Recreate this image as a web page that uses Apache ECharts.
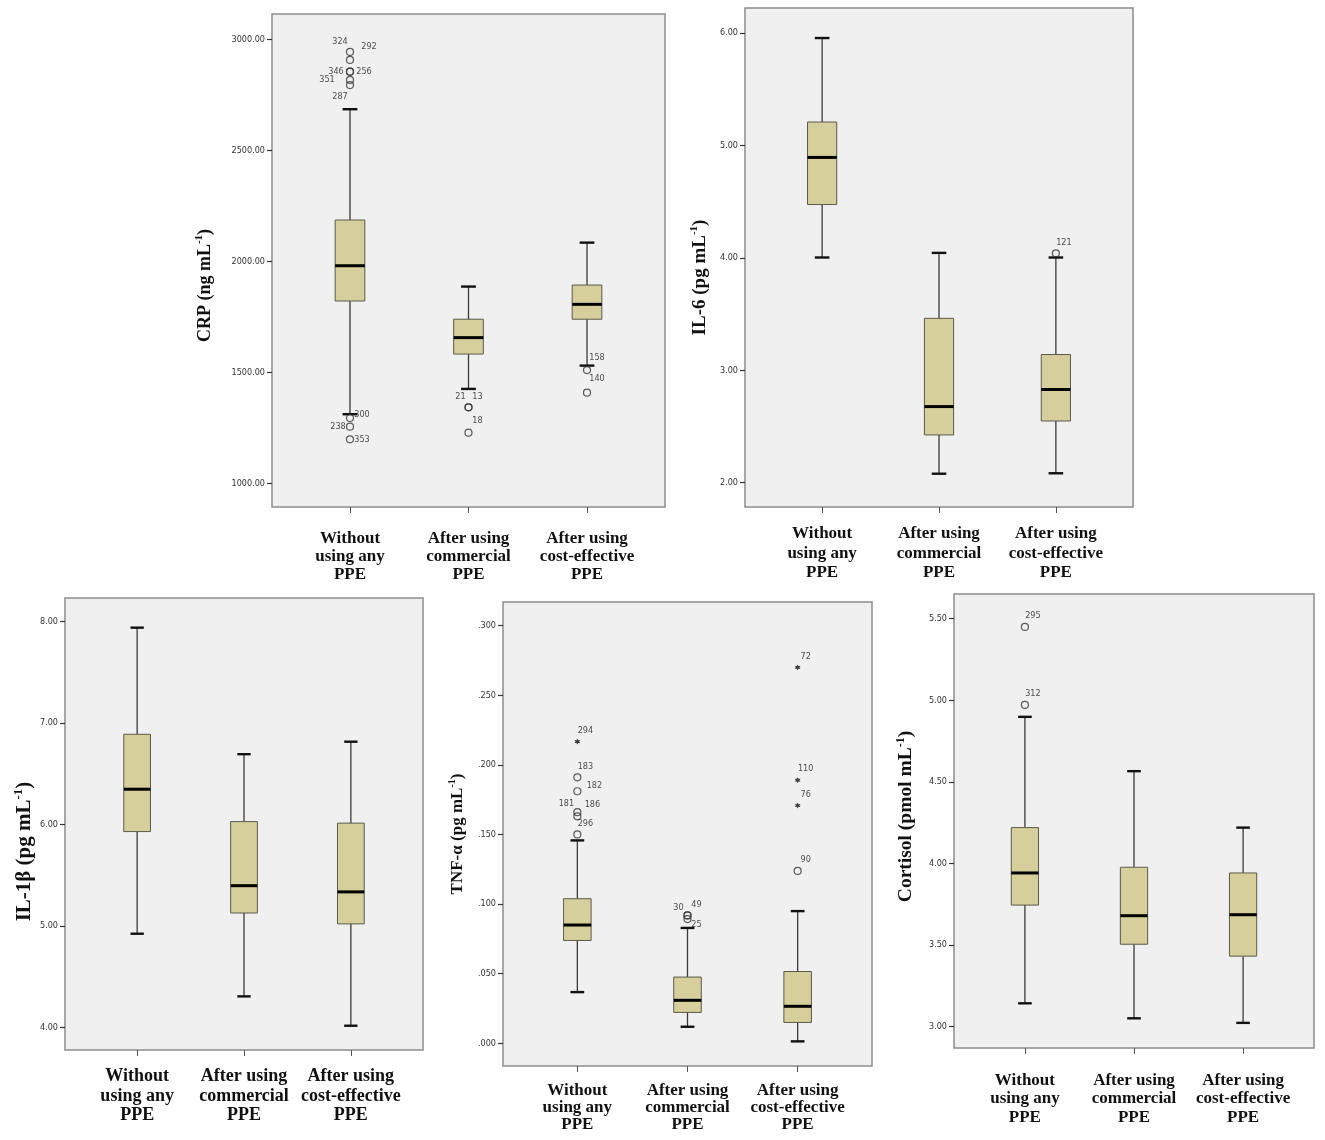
<!DOCTYPE html>
<html>
<head>
<meta charset="utf-8">
<title>Inflammatory markers by PPE use</title>
<script src="https://cdn.jsdelivr.net/npm/echarts@6/dist/echarts.min.js"></script>
<style>
    html, body { margin: 0; padding: 0; background: #fff; }
    #container { width: 1325px; height: 1140px; }
</style>
</head>
<body>
<div id="container"></div>
<script>
// groups on the x axis
var categories = ['Without\nusing any\nPPE', 'After using\ncommercial\nPPE', 'After using\ncost-effective\nPPE'];

// box rows: [group, lower whisker, Q1, median, Q3, upper whisker]
var crpBoxes = [
    [0, 1311, 1821, 1980, 2186, 2685],
    [1, 1425, 1582, 1656, 1739, 1886],
    [2, 1530, 1739, 1806, 1893, 2084]
];
// outlier rows: [group, value, case id, marker]
var crpOutliers = [
    [0, 2943, '324', 'o'], [0, 2907, '292', 'o'], [0, 2854, '346', 'o'], [0, 2854, '256', 'o'],
    [0, 2817, '351', 'o'], [0, 2794, '287', 'o'], [0, 1294, '300', 'o'], [0, 1255, '238', 'o'],
    [0, 1198, '353', 'o'], [1, 1342, '21', 'o'], [1, 1342, '13', 'o'], [1, 1228, '18', 'o'],
    [2, 1510, '158', 'o'], [2, 1408, '140', 'o']
];
var crpTicks = [1000, 1500, 2000, 2500, 3000];

var il6Boxes = [
    [0, 4.003, 4.474, 4.893, 5.208, 5.955],
    [1, 2.080, 2.425, 2.677, 3.462, 4.044],
    [2, 2.084, 2.549, 2.829, 3.140, 4.003]
];
var il6Outliers = [[2, 4.04, '121', 'o']];
var il6Ticks = [2, 3, 4, 5, 6];

var il1bBoxes = [
    [0, 4.923, 5.929, 6.346, 6.887, 7.937],
    [1, 4.306, 5.127, 5.396, 6.027, 6.691],
    [2, 4.017, 5.020, 5.335, 6.012, 6.814]
];
var il1bOutliers = [];
var il1bTicks = [4, 5, 6, 7, 8];

var tnfBoxes = [
    [0, 0.0367, 0.0738, 0.0849, 0.1038, 0.1457],
    [1, 0.0118, 0.0221, 0.0308, 0.0475, 0.0828],
    [2, 0.0013, 0.0149, 0.0265, 0.0515, 0.0949]
];
var tnfOutliers = [
    [0, 0.2167, '294', '*'], [0, 0.191, '183', 'o'], [0, 0.181, '182', 'o'], [0, 0.166, '181', 'o'],
    [0, 0.163, '186', 'o'], [0, 0.150, '296', 'o'],
    [1, 0.0918, '30', 'o'], [1, 0.0918, '49', 'o'], [1, 0.0892, '25', 'o'],
    [2, 0.270, '72', '*'], [2, 0.189, '110', '*'], [2, 0.1708, '76', '*'], [2, 0.1238, '90', 'o']
];
var tnfTicks = [0, 0.05, 0.1, 0.15, 0.2, 0.25, 0.3];

var cortisolBoxes = [
    [0, 3.142, 3.744, 3.941, 4.219, 4.898],
    [1, 3.050, 3.504, 3.679, 3.976, 4.565],
    [2, 3.022, 3.431, 3.685, 3.941, 4.219]
];
var cortisolOutliers = [[0, 5.449, '295', 'o'], [0, 4.971, '312', 'o']];
var cortisolTicks = [3, 3.5, 4, 4.5, 5, 5.5];

// where the case-id labels sit around their marker (px), default is up-right
var labelShift = {
    '324': [-10, -10], '292': [19, -13], '346': [-14, 0], '256': [14, 0], '351': [-23, 0],
    '287': [-10, 12], '300': [12, -3], '238': [-12, 0], '353': [12, 0], '21': [-8, -11],
    '13': [9, -11], '18': [9, -12], '158': [10, -12], '140': [10, -14],
    '182': [17, -6], '181': [-11, -8], '186': [15, -12], '30': [-9, -8], '49': [9, -11], '25': [9, 6]
};

var serif = "'Liberation Serif', 'Times New Roman', serif";
var narrow = "'Liberation Sans Narrow', 'DejaVu Sans Condensed', sans-serif";
var boxFill = '#d6cf9c';
var starPath = 'path://M0,-10L2.5,-4.3L8.7,-5L5,0L8.7,5L2.5,4.3L0,10L-2.5,4.3L-8.7,5L-5,0L-8.7,-5L-2.5,-4.3Z';

var panels = [
    {title: 'CRP (ng mL', boxes: crpBoxes, outliers: crpOutliers, ticks: crpTicks, fmt: 2,
        left: 272, top: 14, width: 393, height: 493, pad: 0.658, ymin: 893, ymax: 3114,
        nameSize: 18, nameGap: 56, nameShift: 50, labelSize: 17, labelMargin: 23, lineHeight: 18},
    {title: 'IL-6 (pg mL', boxes: il6Boxes, outliers: il6Outliers, ticks: il6Ticks, fmt: 2,
        left: 745, top: 8, width: 388, height: 499, pad: 0.66, ymin: 1.784, ymax: 6.222,
        nameSize: 19, nameGap: 33, nameShift: 40, labelSize: 17, labelMargin: 17, lineHeight: 19.5},
    {title: 'IL-1\u03b2 (pg mL', boxes: il1bBoxes, outliers: il1bOutliers, ticks: il1bTicks, fmt: 2,
        left: 65, top: 598, width: 358, height: 452, pad: 0.675, ymin: 3.778, ymax: 8.229,
        nameSize: 21, nameGap: 28, nameShift: 55, labelSize: 18, labelMargin: 17, lineHeight: 19.5},
    {title: 'TNF-\u03b1 (pg mL', boxes: tnfBoxes, outliers: tnfOutliers, ticks: tnfTicks, fmt: 3,
        left: 503, top: 602, width: 369, height: 464, pad: 0.675, ymin: -0.0164, ymax: 0.317,
        nameSize: 17, nameGap: 35, nameShift: 0, labelSize: 17, labelMargin: 16, lineHeight: 17},
    {title: 'Cortisol (pmol mL', boxes: cortisolBoxes, outliers: cortisolOutliers, ticks: cortisolTicks, fmt: 2,
        left: 954, top: 594, width: 360, height: 454, pad: 0.65, ymin: 2.868, ymax: 5.651,
        nameSize: 19.5, nameGap: 36, nameShift: -9, labelSize: 17, labelMargin: 23, lineHeight: 18.5}
];

function tickText(v, digits) {
    var s = v.toFixed(digits);
    if (digits == 3) {
        s = s.replace(/^0/, '');
    }
    return s;
}

function renderBox(params, api) {
    var g = api.value(0);
    var lo = api.coord([g, api.value(1)]);
    var q1 = api.coord([g, api.value(2)]);
    var md = api.coord([g, api.value(3)]);
    var q3 = api.coord([g, api.value(4)]);
    var hi = api.coord([g, api.value(5)]);
    var half = api.size([1, 0])[0] * 0.125;
    var cx = md[0];
    var whisker = {stroke: '#3a3a3a', lineWidth: 1.3};
    var cap = {stroke: '#111', lineWidth: 2.4};
    return {
        type: 'group',
        children: [
            {type: 'line', shape: {x1: cx, y1: hi[1], x2: cx, y2: q3[1]}, style: whisker},
            {type: 'line', shape: {x1: cx, y1: q1[1], x2: cx, y2: lo[1]}, style: whisker},
            {type: 'line', shape: {x1: cx - half / 2, y1: hi[1], x2: cx + half / 2, y2: hi[1]}, style: cap},
            {type: 'line', shape: {x1: cx - half / 2, y1: lo[1], x2: cx + half / 2, y2: lo[1]}, style: cap},
            {type: 'rect', shape: {x: cx - half, y: q3[1], width: half * 2, height: q1[1] - q3[1]},
                style: {fill: boxFill, stroke: '#5a5a4a', lineWidth: 1}},
            {type: 'line', shape: {x1: cx - half, y1: md[1], x2: cx + half, y2: md[1]},
                style: {stroke: '#000', lineWidth: 3}}
        ]
    };
}

function outlierItems(list) {
    var items = [];
    for (var i in list) {
        var o = list[i];
        var shift = labelShift[o[2]] || [8, -11];
        var item = {
            name: o[2],
            value: [o[0], o[1]],
            label: {offset: shift}
        };
        if (o[3] == '*') {
            item.symbol = starPath;
            item.symbolSize = 6;
            item.itemStyle = {color: '#111', borderWidth: 0};
        }
        items.push(item);
    }
    return items;
}

var grids = [], xAxes = [], yAxes = [], series = [];
for (var i = 0; i < panels.length; i++) {
    var p = panels[i];
    var namePad = p.nameShift >= 0 ? [0, p.nameShift, 0, 0] : [0, 0, 0, -p.nameShift];
    grids.push({
        left: p.left, top: p.top, width: p.width, height: p.height,
        show: true, backgroundColor: '#f0f0f0', borderColor: '#8c8c8c', borderWidth: 1.5
    });
    xAxes.push({
        gridIndex: i, type: 'value', min: -p.pad, max: 2 + p.pad,
        axisLine: {show: false, onZero: false},
        splitLine: {show: false},
        axisTick: {show: true, customValues: [0, 1, 2], length: 6, lineStyle: {color: '#555', width: 1}},
        axisLabel: {
            customValues: [0, 1, 2],
            formatter: function (v) {
                return categories[Math.round(v)];
            },
            margin: p.labelMargin,
            fontFamily: serif, fontWeight: 'bold', fontSize: p.labelSize, lineHeight: p.lineHeight, color: '#111'
        }
    });
    yAxes.push({
        gridIndex: i, type: 'value', min: p.ymin, max: p.ymax,
        axisLine: {show: false, onZero: false},
        splitLine: {show: false},
        axisTick: {show: true, customValues: p.ticks, length: 5, lineStyle: {color: '#333', width: 1.2}},
        axisLabel: {
            customValues: p.ticks,
            formatter: (function (d) {
                return function (v) {
                    return tickText(v, d);
                };
            })(p.fmt),
            margin: 7, fontFamily: narrow, fontSize: 9, color: '#333'
        },
        name: '{a|' + p.title + '}{b|-1}{a|)}',
        nameLocation: 'middle',
        nameGap: p.nameGap,
        nameTextStyle: {
            padding: namePad,
            rich: {
                a: {fontFamily: serif, fontWeight: 'bold', fontSize: p.nameSize, color: '#111', lineHeight: p.nameSize + 4},
                b: {fontFamily: serif, fontWeight: 'bold', fontSize: Math.round(p.nameSize * 0.6), color: '#111',
                    verticalAlign: 'top', lineHeight: p.nameSize + 4}
            }
        }
    });
    series.push({
        type: 'custom',
        xAxisIndex: i, yAxisIndex: i,
        renderItem: renderBox,
        encode: {x: 0, y: [1, 2, 3, 4, 5]},
        clip: false,
        z: 2,
        data: p.boxes
    });
    series.push({
        type: 'scatter',
        xAxisIndex: i, yAxisIndex: i,
        symbol: 'circle',
        symbolSize: 7,
        z: 3,
        itemStyle: {color: 'rgba(0,0,0,0)', borderColor: '#333', borderWidth: 1.2},
        label: {
            show: true, position: 'inside',
            formatter: function (param) {
                return param.name;
            },
            fontFamily: narrow, fontSize: 9, color: '#222'
        },
        emphasis: {disabled: true},
        data: outlierItems(p.outliers)
    });
}

var dom = document.getElementById('container');
var myChart = echarts.init(dom);
var option = {
    animation: false,
    grid: grids,
    xAxis: xAxes,
    yAxis: yAxes,
    series: series
};
myChart.setOption(option, true);
</script>
</body>
</html>
